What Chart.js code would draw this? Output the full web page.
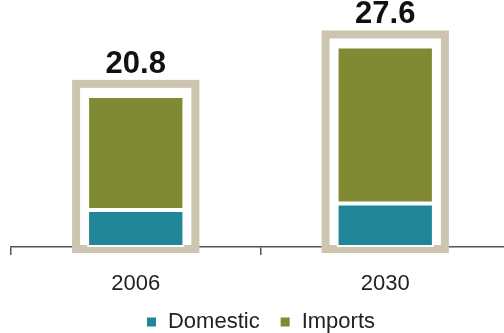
<!DOCTYPE html>
<html>
<head>
<meta charset="utf-8">
<script src="https://cdn.jsdelivr.net/npm/chart.js@4"></script>
<style>
  html, body { margin: 0; padding: 0; background: #fff; overflow: hidden; }
  #supplyChart { display: block; }
</style>
</head>
<body>
<canvas id="supplyChart" width="510" height="333"></canvas>
<script>
const years    = ['2006', '2030'];
const domestic = [5.1, 6.0];
const imports  = [15.7, 21.6];

const domesticColor = '#1f8597';
const importsColor  = '#7f8a32';
const frameColor    = '#cdc5b0';
const fontFamily    = '"Liberation Sans", Arial, sans-serif';

// 各棒の周りにベージュの枠を描き、上に合計値を書く
const framePlugin = {
    id: 'totalFrame',
    beforeDatasetsDraw(chart) {
        const ctx = chart.ctx;
        const topMeta = chart.getDatasetMeta(chart.data.datasets.length - 1);
        const base = chart.scales.y.getPixelForValue(0);
        ctx.save();
        ctx.strokeStyle = frameColor;
        ctx.lineWidth = 8;
        topMeta.data.forEach(bar => {
            const left = bar.x - bar.width / 2 - 11;
            const right = bar.x + bar.width / 2 + 11;
            const top = bar.y - 12;
            ctx.strokeRect(left, top, right - left, base + 2 - top);
        });
        ctx.restore();
    },
    afterDatasetsDraw(chart) {
        const ctx = chart.ctx;
        const topMeta = chart.getDatasetMeta(chart.data.datasets.length - 1);
        ctx.save();
        ctx.fillStyle = '#111';
        ctx.font = `bold 31px ${fontFamily}`;
        ctx.textAlign = 'center';
        ctx.textBaseline = 'alphabetic';
        topMeta.data.forEach((bar, i) => {
            const total = domestic[i] + imports[i];
            ctx.fillText(total.toFixed(1), bar.x, bar.y - 23);
        });
        ctx.restore();
    }
};

new Chart(document.getElementById('supplyChart').getContext('2d'), {
    type: 'bar',
    data: {
        labels: years,
        datasets: [
            {
                label: 'Domestic',
                data: domestic,
                backgroundColor: domesticColor,
                borderColor: '#fff',
                borderWidth: 2,
                borderSkipped: false,
            },
            {
                label: 'Imports',
                data: imports,
                backgroundColor: importsColor,
                borderColor: '#fff',
                borderWidth: 2,
                borderSkipped: false,
            }
        ]
    },
    options: {
        responsive: false,
        animation: false,
        layout: { padding: { left: 11, right: 0, top: 0, bottom: 0 } },
        datasets: {
            bar: { categoryPercentage: 1, barPercentage: 0.39 }
        },
        plugins: {
            tooltip: { enabled: false },
            legend: {
                position: 'bottom',
                maxHeight: 42,
                labels: {
                    boxWidth: 11,
                    boxHeight: 11,
                    padding: 20,
                    color: '#222',
                    font: { family: fontFamily, size: 22 }
                }
            }
        },
        scales: {
            x: {
                stacked: true,
                z: 1,
                border: { display: true, color: '#555', width: 1.5 },
                grid: { drawOnChartArea: false, drawTicks: true, tickLength: 8, color: '#555', lineWidth: 1.5 },
                ticks: { color: '#222', padding: 16, font: { family: fontFamily, size: 22 } },
                afterFit(scale) { scale.height = 44; }
            },
            y: {
                stacked: true,
                display: false,
                min: 0,
                max: 34
            }
        }
    },
    plugins: [framePlugin]
});
</script>
</body>
</html>
